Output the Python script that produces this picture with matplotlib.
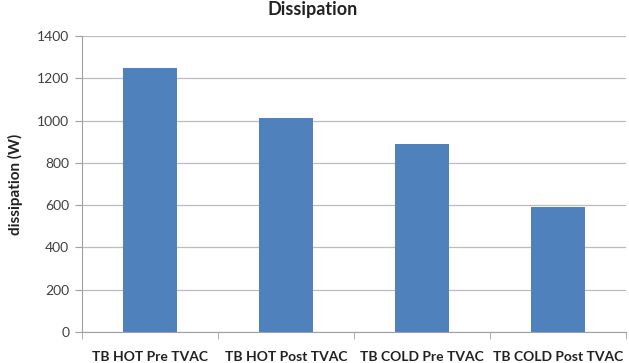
import matplotlib.pyplot as plt
import numpy as np

# values
categories = ["TB HOT Pre TVAC", "TB HOT Post TVAC", "TB COLD Pre TVAC", "TB COLD Post TVAC"]
dissipation = [1250, 1010, 890, 590]
y_ticks = [0, 200, 400, 600, 800, 1000, 1200, 1400]

plt.rcParams['font.family'] = ['Lato', 'DejaVu Sans']

fig = plt.figure(figsize=(6.29, 3.63), dpi=100)
ax = fig.add_axes([0.130, 0.0854, 0.865, 0.8154])

x = np.arange(len(categories))
ax.bar(x, dissipation, width=0.4, color="#4f81bd", zorder=3)

ax.set_xlim(-0.5, len(categories) - 0.5)
ax.set_ylim(0, 1400)
ax.set_yticks(y_ticks)
ax.set_yticklabels([str(v) for v in y_ticks], fontsize=10, color="#404040")
ax.yaxis.grid(True, color="#bcbcbc", linewidth=0.9, zorder=0)

# category labels in the middle, tick marks on the boundaries
ax.set_xticks(x)
ax.set_xticklabels(categories, fontsize=10, fontweight="bold", color="#222222")
ax.tick_params(axis="x", length=0, pad=14)
ax.set_xticks(np.arange(-0.5, len(categories)), minor=True)
ax.tick_params(axis="x", which="minor", length=5, color="#a0a0a0", direction="out")
ax.tick_params(axis="y", length=5, color="#a0a0a0", pad=4)

for side in ["top", "right"]:
    ax.spines[side].set_visible(False)
for side in ["left", "bottom"]:
    ax.spines[side].set_color("#a0a0a0")

ax.set_ylabel("dissipation (W)", fontsize=11, fontweight="bold", color="#222222", labelpad=10)
fig.text(0.497, 0.997, "Dissipation", ha="center", va="top", fontsize=13, fontweight="bold", color="#222222")

fig.savefig("out.png", dpi=100)
